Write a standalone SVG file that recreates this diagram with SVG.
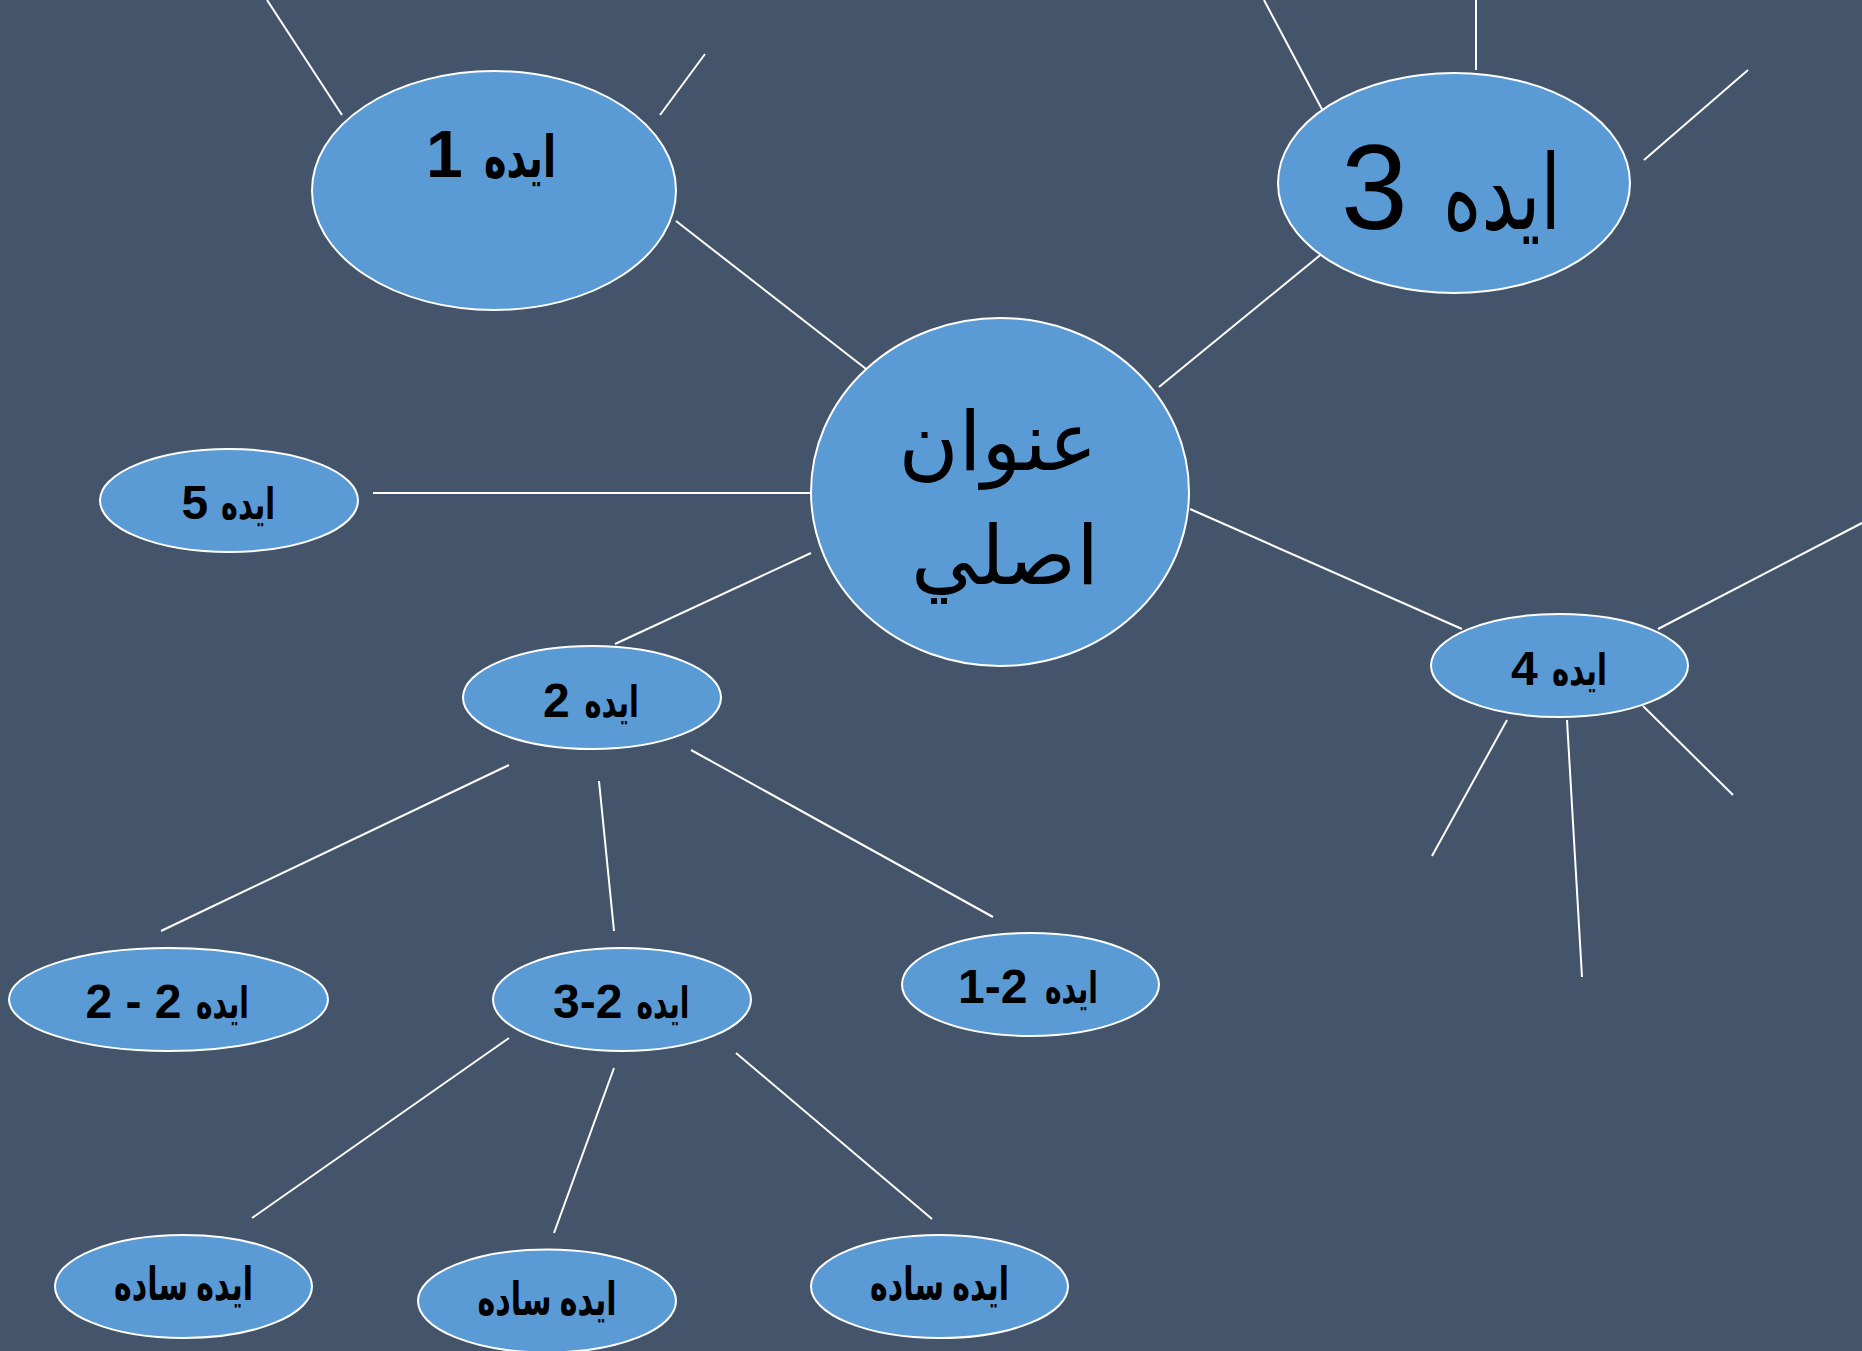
<svg xmlns="http://www.w3.org/2000/svg" width="1862" height="1351" viewBox="0 0 1862 1351">
<style>
.bg{fill:#44546A}
.node{fill:#5B9BD5;stroke:#FFFFFF;stroke-width:2}
.conn line{stroke:#FFFFFF;stroke-width:2;fill:none}
text{font-family:"Liberation Sans","DejaVu Sans",sans-serif;fill:#000000}
.b{font-weight:bold;font-size:48px}
.b .ar{font-size:43px}
.big{font-weight:bold;font-size:66px}
.big .ar{font-size:58px}
.huge{font-size:120px}
.huge .ar{font-size:104px}
.main{font-size:82px;text-anchor:middle}
.s{font-weight:bold;font-size:46px;text-anchor:middle}
</style>
<rect class="bg" x="0" y="0" width="1862" height="1351"/>
<g id="connectors" class="conn">
<line x1="267" y1="0" x2="342" y2="115"/>
<line x1="705" y1="54" x2="660" y2="115"/>
<line x1="676" y1="221" x2="870" y2="372"/>
<line x1="1264" y1="0" x2="1325" y2="115"/>
<line x1="1476" y1="0" x2="1476" y2="70"/>
<line x1="1748" y1="70" x2="1644" y2="160"/>
<line x1="1324" y1="252" x2="1159" y2="387"/>
<line x1="1190" y1="509" x2="1462" y2="629"/>
<line x1="1862" y1="523" x2="1658" y2="629"/>
<line x1="1643" y1="706" x2="1733" y2="795"/>
<line x1="1567" y1="720" x2="1582" y2="977"/>
<line x1="1507" y1="720" x2="1432" y2="856"/>
<line x1="373" y1="493" x2="811" y2="493"/>
<line x1="811" y1="553" x2="615" y2="644"/>
<line x1="509" y1="765" x2="161" y2="931"/>
<line x1="599" y1="781" x2="614" y2="931"/>
<line x1="691" y1="750" x2="993" y2="917"/>
<line x1="509" y1="1038" x2="252" y2="1218"/>
<line x1="614" y1="1068" x2="554" y2="1233"/>
<line x1="736" y1="1053" x2="932" y2="1219"/>
</g>
<g id="idea1"><ellipse class="node" cx="494" cy="190.5" rx="182" ry="119.5"/><text class="big" x="426" y="177">1 <tspan class="ar" x="484" textLength="72" lengthAdjust="spacingAndGlyphs">ايده</tspan></text></g>
<g id="idea3"><ellipse class="node" cx="1454" cy="183" rx="176" ry="110"/><text class="huge" x="1341" y="229">3 <tspan class="ar" x="1443" textLength="118" lengthAdjust="spacingAndGlyphs">ايده</tspan></text></g>
<g id="main"><ellipse class="node" cx="1000" cy="492" rx="189" ry="174"/><text class="main" x="998" y="470">عنوان</text><text class="main" x="1005" y="584">اصلي</text></g>
<g id="idea5"><ellipse class="node" cx="229" cy="500.5" rx="129" ry="51.5"/><text class="b" x="181.5" y="519">5 <tspan class="ar" x="221" textLength="54" lengthAdjust="spacingAndGlyphs">ايده</tspan></text></g>
<g id="idea2"><ellipse class="node" cx="592" cy="697.5" rx="129" ry="51.5"/><text class="b" x="543" y="717">2 <tspan class="ar" x="584.5" textLength="54.5" lengthAdjust="spacingAndGlyphs">ايده</tspan></text></g>
<g id="idea4"><ellipse class="node" cx="1559.5" cy="665.5" rx="128.5" ry="51.5"/><text class="b" x="1511" y="685">4 <tspan class="ar" x="1552" textLength="55" lengthAdjust="spacingAndGlyphs">ايده</tspan></text></g>
<g id="idea2-2"><ellipse class="node" cx="168.5" cy="999.5" rx="159.5" ry="51.5"/><text class="b" x="85.5" y="1018">2 - 2 <tspan class="ar" x="196" textLength="53" lengthAdjust="spacingAndGlyphs">ايده</tspan></text></g>
<g id="idea2-3"><ellipse class="node" cx="622" cy="999.5" rx="129" ry="51.5"/><text class="b" x="553" y="1018">3-2 <tspan class="ar" x="636.5" textLength="53" lengthAdjust="spacingAndGlyphs">ايده</tspan></text></g>
<g id="idea2-1"><ellipse class="node" cx="1030.5" cy="984.5" rx="128.5" ry="51.5"/><text class="b" x="958" y="1003">1-2 <tspan class="ar" x="1045" textLength="53" lengthAdjust="spacingAndGlyphs">ايده</tspan></text></g>
<g id="simple1"><ellipse class="node" cx="183.5" cy="1286.5" rx="128.5" ry="51.5"/><text class="s" x="183.5" y="1300" textLength="139" lengthAdjust="spacingAndGlyphs">ايده ساده</text></g>
<g id="simple2"><ellipse class="node" cx="547" cy="1301" rx="129" ry="51.5"/><text class="s" x="547" y="1315" textLength="139" lengthAdjust="spacingAndGlyphs">ايده ساده</text></g>
<g id="simple3"><ellipse class="node" cx="939.5" cy="1286.5" rx="128.5" ry="51.5"/><text class="s" x="939.5" y="1300" textLength="139" lengthAdjust="spacingAndGlyphs">ايده ساده</text></g>
</svg>
